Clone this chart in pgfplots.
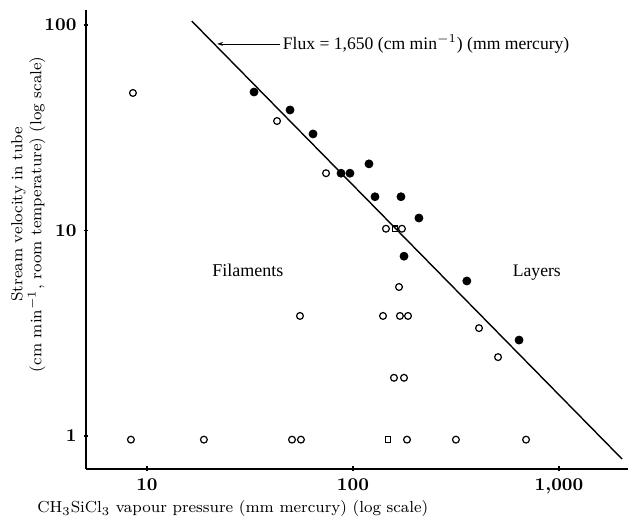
\documentclass[border=0pt]{standalone}
\usepackage{pgfplots}
\pgfplotsset{compat=1.18}
\usepackage{fontspec}
\newfontfamily\annfont{Liberation Serif}
\usetikzlibrary{arrows.meta}

\begin{document}
\begin{tikzpicture}
\useasboundingbox (-43pt,-24pt) rectangle (272pt,234.5pt);
\begin{axis}[
    at={(0,0)}, anchor=south west,
    scale only axis,
    width=271pt, height=229.5pt,
    xmode=log, ymode=log,
    xmin=5.06, xmax=2163,
    ymin=0.691, ymax=118.3,
    axis lines=left,
    axis line style={-, line width=0.9pt},
    xtick={10,100,1000}, xticklabels={10,100,{1,000}},
    ytick={1,10,100}, yticklabels={1,10,100},
    xminorticks=false, yminorticks=false,
    major tick length=2.5pt,
    tick style={black, line width=0.7pt},
    tick label style={font=\fontsize{9}{10}\selectfont\bfseries},
    xlabel={CH$_3$SiCl$_3$ vapour pressure (mm mercury) (log scale)},
    xlabel style={font=\fontsize{8}{9}\selectfont, at={(axis description cs:0.271,-0.054)}, anchor=north},
    ylabel={Stream velocity in tube\\(cm min$^{-1}$, room temperature) (log scale)},
    ylabel style={font=\fontsize{8}{9.5}\selectfont, align=center, at={(axis description cs:-0.062,0.555)}, anchor=south},
    clip=false,
]
% fitted line (flux)
\addplot[black, line width=0.7pt] coordinates {(16.5,104.5) (2023,0.773)};

% filled circles (layers)
\addplot[only marks, mark=*, mark size=2pt, black] coordinates {
    (33.1,47.2) (49.5,38.6) (64.0,29.5) (87.5,19.0) (96.7,19.0)
    (119.6,21.1) (127.9,14.6) (171,14.6) (209,11.5) (176.9,7.5)
    (357,5.68) (640,2.93)
};

% open circles (filaments)
\addplot[only marks, mark=o, mark size=1.7pt, black, mark options={line width=0.6pt}] coordinates {
    (8.55,46.7) (42.8,34.1) (74.0,19.0) (144.6,10.2) (172.9,10.2)
    (167.3,5.31) (55.3,3.84) (139.9,3.84) (169,3.84) (185,3.84)
    (409,3.35) (506,2.42) (158.1,1.92) (176.9,1.92)
    (8.36,0.96) (18.9,0.96) (50.6,0.96) (55.9,0.96) (182.9,0.96)
    (316,0.96) (692,0.96)
};

% open squares
\addplot[only marks, mark=square, mark size=1.4pt, black, mark options={line width=0.6pt}] coordinates {
    (159.9,10.2) (147.9,0.96)
};

\draw[-{Stealth[length=3pt,width=2pt]}, line width=0.4pt] (axis cs:44,80.9) -- (axis cs:21.9,80.9);
\node[anchor=west, inner sep=1pt, font=\annfont\fontsize{8.8}{10}\selectfont] at (axis cs:44.5,80.9)
    {Flux = 1,650 (cm min$^{-1}$) (mm mercury)};
\node[font=\annfont\fontsize{9}{10}\selectfont] at (axis cs:30.9,6.42) {Filaments};
\node[font=\annfont\fontsize{8.8}{10}\selectfont] at (axis cs:781,6.21) {Layers};
\end{axis}
\end{tikzpicture}
\end{document}
